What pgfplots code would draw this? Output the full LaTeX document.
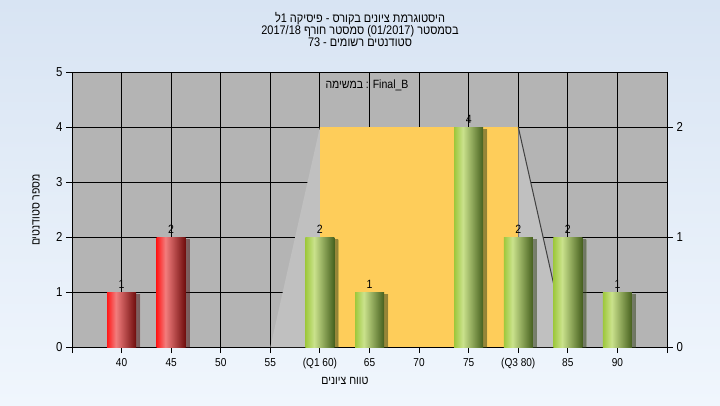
\documentclass[border=0pt]{standalone}
\usepackage{fontspec}
\setmainfont{Liberation Sans}[FakeStretch=0.88]
\newfontfamily\heb[Script=Hebrew,FakeStretch=0.88]{Liberation Sans}
\usepackage{pgfplots}
\pgfplotsset{compat=1.18}
\usetikzlibrary{shadows}
\TeXXeTstate=1

\definecolor{bgtop}{RGB}{216,228,243}
\definecolor{bgbot}{RGB}{240,246,253}
\definecolor{plotgray}{RGB}{180,180,180}
\definecolor{wedge}{RGB}{192,192,192}
\definecolor{boxyellow}{RGB}{254,205,90}
\definecolor{redL}{RGB}{255,25,25}
\definecolor{redM}{RGB}{242,125,125}
\definecolor{redR}{RGB}{110,12,12}
\definecolor{grnL}{RGB}{158,200,60}
\definecolor{grnM}{RGB}{202,226,140}
\definecolor{grnR}{RGB}{70,96,30}

% path spans 25bp..75bp of the shading, highlight at about 30%
\pgfdeclarehorizontalshading{redcyl}{100bp}{color(0bp)=(redL); color(25bp)=(redL);
  color(40bp)=(redM); color(75bp)=(redR); color(100bp)=(redR)}
\pgfdeclarehorizontalshading{grncyl}{100bp}{color(0bp)=(grnL); color(25bp)=(grnL);
  color(40bp)=(grnM); color(75bp)=(grnR); color(100bp)=(grnR)}

\pgfplotsset{
  barbase/.style={ybar, bar width=29bp, bar shift=0pt, draw=none, mark=none,
    drop shadow={shadow xshift=4bp, shadow yshift=-2bp, opacity=0.3, fill=black},
    nodes near coords},
  redbar/.style={barbase, shading=redcyl},
  grnbar/.style={barbase, shading=grncyl},
}

\begin{document}
\begin{tikzpicture}[x=1bp,y=1bp]
\shade[top color=bgtop, bottom color=bgbot] (0,0) rectangle (720,405);

\begin{axis}[
    at={(72bp,58bp)}, anchor=south west,
    scale only axis, width=595bp, height=275bp,
    xmin=0, xmax=12, ymin=0, ymax=5,
    axis background/.style={fill=plotgray},
    xtick={0,...,12},
    xticklabels={,40,45,50,55,(Q1 60),65,70,75,(Q3 80),85,90,},
    ytick={0,...,5},
    xtick pos=bottom, ytick pos=left,
    tick align=outside, major tick length=6bp,
    grid=major, grid style={black, line width=0.9bp},
    axis line style={black, line width=0.9bp},
    tick style={black, line width=0.9bp},
    /pgf/number format/assume math mode=true,
    xticklabel style={font=\fontsize{11.5}{12}\selectfont, yshift=-2bp},
    yticklabel style={font=\fontsize{13}{13}\selectfont},
    every node near coord/.append style={font=\fontsize{12}{12}\selectfont, text=black},
  ]
  % box of the middle half, Q1 to Q3
  \addplot[fill=wedge, draw=none] coordinates {(4,0) (5,4) (5,0)} -- cycle;
  \addplot[fill=wedge, draw=none] coordinates {(9,0) (9,4) (10,0)} -- cycle;
  \addplot[fill=boxyellow, draw=none] coordinates {(5,0) (5,4) (9,4) (9,0)} -- cycle;
  \addplot[draw=black!75, line width=1bp] coordinates {(9,4) (10,0)};

  % bars, one plot each so every bar gets its own shading
  \addplot[redbar] coordinates {(1,1)};
  \addplot[redbar] coordinates {(2,2)};
  \addplot[grnbar] coordinates {(5,2)};
  \addplot[grnbar] coordinates {(6,1)};
  \addplot[grnbar] coordinates {(8,4)};
  \addplot[grnbar] coordinates {(9,2)};
  \addplot[grnbar] coordinates {(10,2)};
  \addplot[grnbar] coordinates {(11,1)};
\end{axis}

\begin{axis}[
    at={(72bp,58bp)}, anchor=south west,
    scale only axis, width=595bp, height=275bp,
    xmin=0, xmax=12, ymin=0, ymax=2.5,
    axis y line*=right, axis x line=none,
    ytick={0,1,2},
    tick align=outside, major tick length=6bp,
    axis line style={black, line width=0.9bp},
    tick style={black, line width=0.9bp},
    /pgf/number format/assume math mode=true,
    yticklabel style={font=\fontsize{13}{13}\selectfont},
  ]
  \addplot[draw=none] coordinates {(0,0)};
\end{axis}

% titles and labels
\node[anchor=base, font=\heb\fontsize{12.5}{12}\selectfont] at (360,383)
  {\beginR היסטוגרמת ציונים בקורס - פיסיקה 1ל\endR};
\node[anchor=base, font=\heb\fontsize{12.5}{12}\selectfont] at (360,371)
  {\beginR בסמסטר \beginL(01/2017)\endL{} סמסטר חורף \beginL 2017/18\endL\endR};
\node[anchor=base, font=\heb\fontsize{12.5}{12}\selectfont] at (360,359)
  {\beginR סטודנטים רשומים - \beginL 73\endL\endR};
\node[font=\heb\fontsize{12}{12}\selectfont] at (367,320)
  {\beginR במשימה\endR{} : Final\_B};
\node[rotate=90, font=\heb\fontsize{12}{12}\selectfont] at (36,195)
  {\beginR מספר סטודנטים\endR};
\node[font=\heb\fontsize{12}{12}\selectfont] at (345,24)
  {\beginR טווח ציונים\endR};
\end{tikzpicture}
\end{document}
